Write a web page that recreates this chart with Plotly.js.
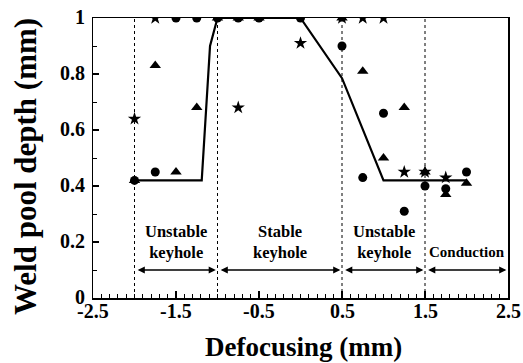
<!DOCTYPE html>
<html><head><meta charset="utf-8">
<script src="https://cdn.plot.ly/plotly-3.0.1.min.js"></script>
<style>html,body{margin:0;padding:0;background:#fff}#g{width:523px;height:363px}</style>
</head><body><div id="g"></div>
<script>
// Data
const circleX = [-2, -1.75, -1.5, -1.25, -1, -0.75, -0.5, 0, 0.5, 0.75, 1, 1.25, 1.5, 1.75, 2];
const circleY = [0.42, 0.45, 1, 1, 1, 1, 1, 1, 0.90, 0.43, 0.66, 0.31, 0.40, 0.39, 0.45];
const triX = [-2, -1.75, -1.5, -1.25, -1, -0.75, -0.5, 0.5, 0.75, 1, 1.25, 1.5, 1.75, 2];
const triY = [0.42, 0.83, 0.45, 0.68, 1, 1, 1, 1, 0.81, 0.50, 0.68, 0.45, 0.37, 0.41];
const starX = [-2, -1.75, -0.75, 0, 0.5, 0.75, 1, 1.25, 1.5, 1.75];
const starY = [0.64, 1, 0.68, 0.91, 1, 1, 1, 0.45, 0.45, 0.43];
const lineX = [-2, -1.19, -1.09, -1, 0, 0.5, 1, 2];
const lineY = [0.42, 0.42, 0.90, 1, 1, 0.785, 0.42, 0.42];
const boundaries = [-2, -1, 0.5, 1.5];
const regionEdges = [-2, -1, 0.5, 1.5, 2.5];
const regionLabels = ['Unstable<br>keyhole', 'Stable<br>keyhole', 'Unstable<br>keyhole', 'Conduction'];
const xTickVals = [-2.5, -1.5, -0.5, 0.5, 1.5, 2.5];
const xTickText = ['-2.5', '-1.5', '-0.5', '0.5', '1.5', '2.5'];
const yTickVals = [0, 0.2, 0.4, 0.6, 0.8, 1];
const yTickText = ['0', '0.2', '0.4', '0.6', '0.8', '1'];
const xTitle = 'Defocusing (mm)';
const yTitle = 'Weld pool depth (mm)';

const serif = 'Liberation Serif';
const traces = [
  {x: lineX, y: lineY, mode: 'lines', line: {color: '#000', width: 2.2}, hoverinfo: 'skip'},
  {x: circleX, y: circleY, mode: 'markers', marker: {symbol: 'circle', size: 9, color: '#000'}},
  {x: triX, y: triY, mode: 'markers', marker: {symbol: 'triangle-up', size: 10, color: '#000'}},
  {x: starX, y: starY, mode: 'markers', marker: {symbol: 'star', size: 10, color: '#000'}}
];

const shapes = boundaries.map(b => ({type: 'line', xref: 'x', yref: 'y', x0: b, x1: b, y0: 0, y1: 1,
  line: {color: '#000', width: 1, dash: 'dot'}, layer: 'below'}));

const bold = (size) => ({family: serif, size: size, color: '#000', weight: 700});
const annotations = [];
for (let i = 0; i < regionLabels.length; i++) {
  const a = regionEdges[i], b = regionEdges[i + 1];
  const isLast = i === regionLabels.length - 1;
  annotations.push({x: (a + b) / 2, y: isLast ? 0.165 : 0.2, xref: 'x', yref: 'y', text: regionLabels[i],
    showarrow: false, font: bold(isLast ? 15 : 16.5), yanchor: 'middle'});
  annotations.push({x: b - 0.02, y: 0.1, ax: a + 0.02, ay: 0.1, xref: 'x', yref: 'y', axref: 'x', ayref: 'y',
    text: '', showarrow: true, arrowhead: 2, startarrowhead: 2, arrowside: 'end+start', arrowwidth: 1.3, arrowsize: 1.1,
    arrowcolor: '#000', startarrowsize: 1.1});
}
// bold tick labels drawn at axis positions
xTickVals.forEach((v, i) => annotations.push({x: v, xref: 'x', y: 0, yref: 'paper', text: xTickText[i],
  showarrow: false, font: bold(20), xanchor: 'center', yanchor: 'middle', yshift: -13}));
yTickVals.forEach((v, i) => annotations.push({x: 0, xref: 'paper', y: v, yref: 'y', text: yTickText[i],
  showarrow: false, font: bold(20), xanchor: 'right', yanchor: 'middle', xshift: -6, yshift: 1}));
annotations.push({x: 0.5, xref: 'paper', y: 0, yref: 'paper', text: xTitle, showarrow: false,
  font: bold(27), xanchor: 'center', yanchor: 'middle', xshift: 3, yshift: -49});
annotations.push({x: 0, xref: 'paper', y: 0.5, yref: 'paper', text: yTitle, showarrow: false, textangle: -90,
  font: bold(31), xanchor: 'center', yanchor: 'middle', xshift: -68, yshift: -9});

const layout = {
  width: 523, height: 363,
  margin: {l: 93, r: 15, t: 18, b: 65},
  paper_bgcolor: '#fff', plot_bgcolor: '#fff',
  showlegend: false,
  font: {family: serif, color: '#000'},
  xaxis: {range: [-2.5, 2.5], tickmode: 'array', tickvals: xTickVals, showticklabels: false,
    ticks: 'inside', ticklen: 7, tickwidth: 1.2, tickcolor: '#000',
    showline: true, linecolor: '#000', linewidth: 1.5, mirror: true, showgrid: false, zeroline: false,
    minor: {dtick: 0.1, tick0: -2.5, ticks: 'inside', ticklen: 4, tickcolor: '#000', tickwidth: 1, showgrid: false}},
  yaxis: {range: [0, 1], tickmode: 'array', tickvals: yTickVals, showticklabels: false,
    ticks: 'inside', ticklen: 6, tickwidth: 1.2, tickcolor: '#000',
    showline: true, linecolor: '#000', linewidth: 1.5, mirror: true, showgrid: false, zeroline: false,
    minor: {dtick: 0.1, tick0: 0, ticks: 'inside', ticklen: 4, tickcolor: '#000', tickwidth: 1, showgrid: false}},
  shapes: shapes,
  annotations: annotations
};
Plotly.newPlot('g', traces, layout, {staticPlot: true});
</script></body></html>
